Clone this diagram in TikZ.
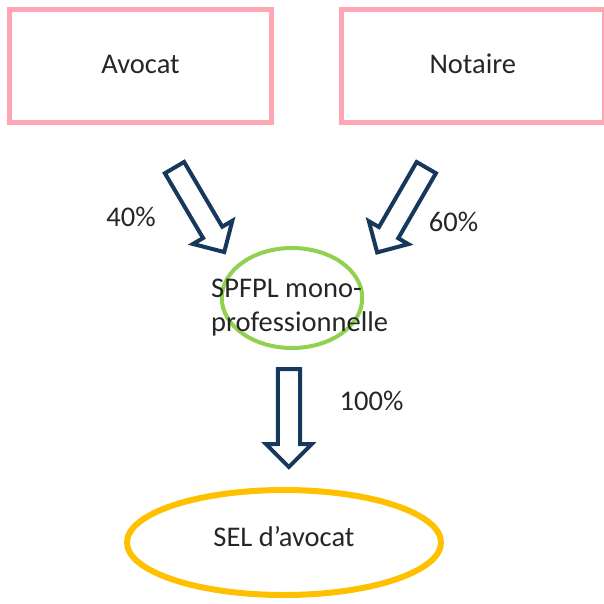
\documentclass[tikz,border=0pt]{standalone}
\usepackage{fontspec}
\setmainfont{Carlito}
\usetikzlibrary{positioning,shapes.geometric,shapes.arrows}
\definecolor{boxpink}{RGB}{255,166,180}
\definecolor{ovalgreen}{RGB}{146,208,80}
\definecolor{ovalgold}{RGB}{255,192,0}
\definecolor{arrownavy}{RGB}{22,56,92}
\newcommand{\txt}{\fontsize{28.5}{34}\selectfont}

\begin{document}
\begin{tikzpicture}[
      x=1pt, y=-1pt, % <-- PIXEL UNITS, Y DOWNWARDS
      node distance=64.7pt,
      every node/.style={font=\txt, text=black!85},
      party/.style={draw=boxpink, line width=5pt, minimum width=262.6pt, minimum height=112.7pt, text height=21.4pt, text depth=7.1pt},
      share/.style={single arrow, draw=arrownavy, fill=white, line width=4pt, inner sep=9.15pt, single arrow head extend=11.7pt, minimum height=98pt, anchor=tail},
      pct/.style={anchor=base, inner sep=0pt}
    ]
    \useasboundingbox (0,0) rectangle (603,604);

    % Partners at the top
    \node[party] (avocat) at (140.5,66.2) {Avocat};
    \node[party, right=of avocat] (notaire) {Notaire};

    % Holding and target company
    \node[ellipse, draw=ovalgreen, line width=4pt, minimum width=140.5pt, minimum height=100pt] (spfpl) at (292,298) {};
    \node[anchor=west, align=left, inner sep=0pt] (spfpltxt) at (211,307.3) {SPFPL mono-\\professionnelle};

    \node[ellipse, draw=ovalgold, line width=6pt, minimum width=314pt, minimum height=105pt, text height=21.4pt, text depth=13.1pt] (sel) at (284,542.5) {SEL d’avocat};

    % Arrows
    \node[share, rotate=-59.5] (arrAvocat) at (173.5,165.9) {};
    \node[share, rotate=-120.1] (arrNotaire) at (427.3,165.9) {};
    \node[share, rotate=-90] (arrSel) at (288.9,367) {};

    \node[pct] (pAvocat) at (131,226.7) {40\%};
    \node[pct] (pNotaire) at (453.5,231.7) {60\%};
    \node[pct] (pSel) at (371.5,410.7) {100\%};

  \end{tikzpicture}
\end{document}
